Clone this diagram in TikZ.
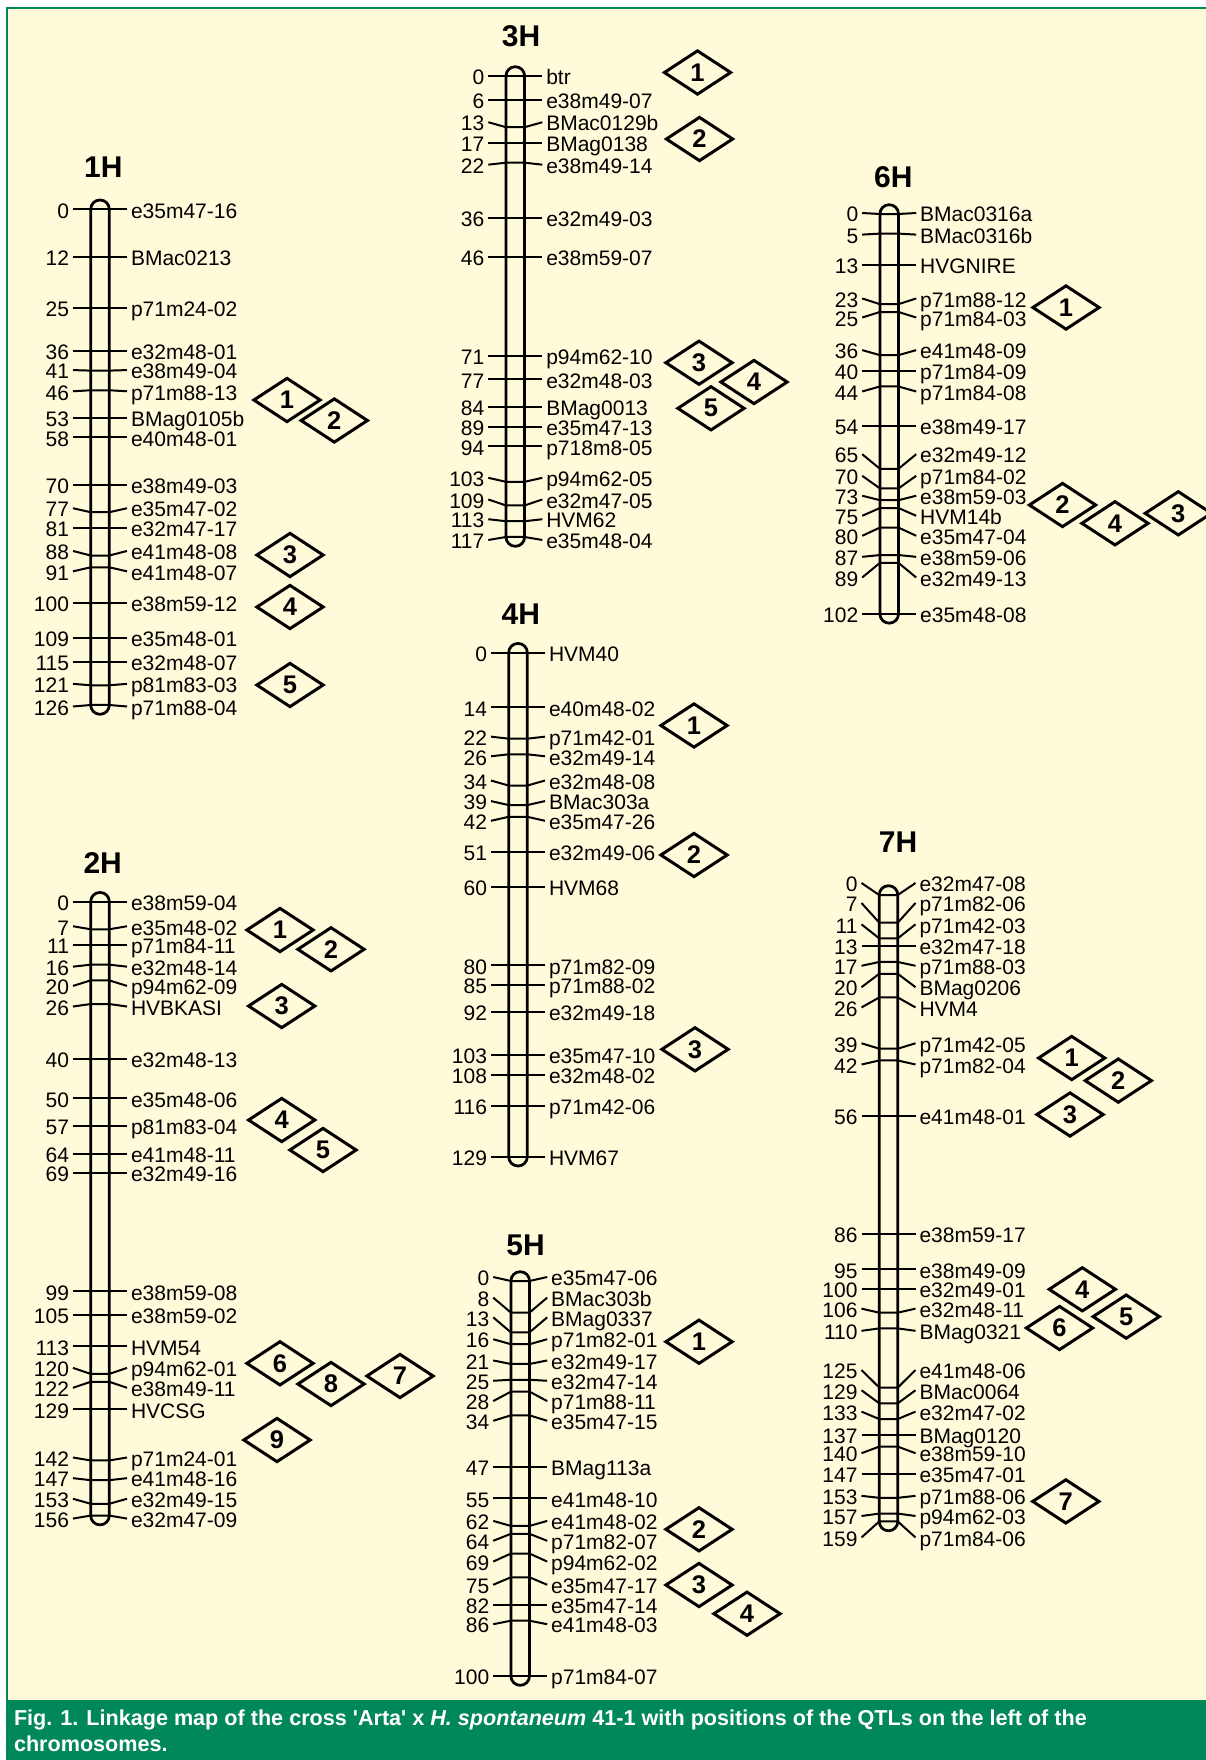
\documentclass[tikz,border=0pt]{standalone}
\usepackage{fontspec}
\setmainfont{Liberation Sans}
\usetikzlibrary{shapes.geometric}
\definecolor{panelcol}{RGB}{255,250,218}
\definecolor{framecol}{RGB}{0,135,90}
\tikzset{
  chrom/.style={draw=black,line width=1.1pt,fill=panelcol,rounded corners=3.7pt},
  tickline/.style={draw=black,line width=0.8pt,line join=round},
  cmnum/.style={anchor=east,inner sep=0pt,outer xsep=1.6pt,outer ysep=0pt,text height=7pt,text depth=0pt,font=\fontsize{8.4}{10}\selectfont},
  mkname/.style={cmnum,anchor=west},
  qtl/.style={diamond,draw=black,line width=1.2pt,fill=panelcol,minimum width=27pt,minimum height=17.8pt,inner sep=0pt,font=\bfseries\fontsize{10.2}{12}\selectfont},
  chromname/.style={inner sep=0pt,font=\bfseries\fontsize{12}{14}\selectfont}
}
% #1 id, #2 centre x, #3 y of 0 cM, #4 px per cM, #5 last cM, #6 markers cM/label shift/name
\newcommand{\linkagegroup}[6]{%
  \pgfmathsetmacro\ybot{#3+#4*#5}
  \draw[chrom] (#2-9.3,#3-9.3) rectangle (#2+9.3,\ybot+9.3);
  \foreach \cm/\dy/\nm in {#6}{
    \pgfmathsetmacro\ay{#3+#4*\cm}
    \pgfmathsetmacro\ly{\ay+\dy}
    \node[cmnum]  (n#1-\cm) at (#2-27,\ly) {\cm};
    \node[mkname] (m#1-\cm) at (#2+27,\ly) {\nm};
    \draw[tickline] (n#1-\cm.east) -- (#2-9.3,\ay) -- (#2+9.3,\ay) -- (m#1-\cm.west);
  }
}

\begin{document}
\begin{tikzpicture}[x=0.4pt,y=-0.4pt]
  \useasboundingbox (0,0) rectangle (1206,1760);
  \clip (0,0) rectangle (1206,1760);

  % panel and caption band
  \fill[white] (0,0) rectangle (1206,1760);
  \fill[panelcol] (7,8) rectangle (1206,1700);
  \draw[framecol,line width=1pt] (7,1760) -- (7,8) -- (1206,8);
  \fill[framecol] (6,1699.5) rectangle (1206,1760);

  % chromosome names
  \node[chromname] (t1) at (103.3,167) {1H};
  \node[chromname] (t2) at (102.7,863.3) {2H};
  \node[chromname] (t3) at (521,36) {3H};
  \node[chromname] (t4) at (520.8,614) {4H};
  \node[chromname] (t5) at (525.5,1245) {5H};
  \node[chromname] (t6) at (893.3,177.5) {6H};
  \node[chromname] (t7) at (898,842) {7H};

  % linkage groups
  \linkagegroup{1}{100}{209.3}{3.934}{126}{0/0/e35m47-16, 12/0/BMac0213, 25/0/p71m24-02,
    36/0/e32m48-01, 41/-0.5/e38m49-04, 46/1/p71m88-13, 53/0/BMag0105b, 58/0/e40m48-01,
    70/0/e38m49-03, 77/-4/e35m47-02, 81/0/e32m47-17, 88/-4.5/e41m48-08, 91/4/e41m48-07,
    100/0/e38m59-12, 109/0/e35m48-01, 115/0/e32m48-07, 121/-1.5/p81m83-03, 126/1.5/p71m88-04}
  \linkagegroup{2}{100}{901.7}{3.935}{156}{0/0/e38m59-04, 7/-3/e35m48-02, 11/0/p71m84-11,
    16/2/e32m48-14, 20/5.5/p94m62-09, 26/2.5/HVBKASI, 40/0/e32m48-13, 50/0/e35m48-06,
    57/0/p81m83-04, 64/0/e41m48-11, 69/0/e32m49-16, 99/0/e38m59-08, 105/0/e38m59-02,
    113/0/HVM54, 120/-6/p94m62-01, 122/6/e38m49-11, 129/0/HVCSG, 142/-3/p71m24-01,
    147/-2/e41m48-16, 153/-5/e32m49-15, 156/3/e32m47-09}
  \linkagegroup{3}{515.3}{76}{3.94}{117}{0/0/btr, 6/0/e38m49-07, 13/-5/BMac0129b,
    17/0/BMag0138, 22/2/e38m49-14, 36/0/e32m49-03, 46/0/e38m59-07, 71/0/p94m62-10,
    77/0/e32m48-03, 84/0/BMag0013, 89/0/e35m47-13, 94/0/p718m8-05, 103/-4/p94m62-05,
    109/-6/e32m47-05, 113/-2/HVM62, 117/3/e35m48-04}
  \linkagegroup{4}{518}{652.7}{3.907}{129}{0/0/HVM40, 14/0/e40m48-02, 22/-2/p71m42-01,
    26/2/e32m49-14, 34/-5/e32m48-08, 39/-4/BMac303a, 42/4/e35m47-26, 51/0/e32m49-06,
    60/0/HVM68, 80/0/p71m82-09, 85/0/p71m88-02, 92/0/e32m49-18, 103/0/e35m47-10,
    108/0/e32m48-02, 116/0/p71m42-06, 129/0/HVM67}
  \linkagegroup{5}{520.2}{1281}{3.95}{100}{0/-4/e35m47-06, 8/-15/BMac303b, 13/-15/BMag0337,
    16/-5/p71m82-01, 21/-3.5/e32m49-17, 25/1/e32m47-14, 28/9.5/p71m88-11, 34/5.5/e35m47-15,
    47/0/BMag113a, 55/0/e41m48-10, 62/-5/e41m48-02, 64/7/p71m82-07, 69/8/p94m62-02,
    75/7.5/e35m47-17, 82/0/e35m47-14, 86/3.5/e41m48-03, 100/0/p71m84-07}
  \linkagegroup{6}{889.2}{214}{3.92}{102}{0/-1/BMac0316a, 5/1/BMac0316b, 13/0/HVGNIRE,
    23/-5.7/p71m88-12, 25/5.5/p71m84-03, 36/-5/e41m48-09, 40/0/p71m84-09, 44/5/p71m84-08,
    54/0/e38m49-17, 65/-14.6/e32m49-12, 70/-12.6/p71m84-02, 73/-4.4/e38m59-03,
    75/7.8/HVM14b, 80/8.2/e35m47-04, 87/1.8/e38m59-06, 89/14.6/e32m49-13, 102/0/e35m48-08}
  \linkagegroup{7}{888.5}{895}{3.94}{159}{0/-12/e32m47-08, 7/-19.6/p71m82-06,
    11/-14/p71m42-03, 13/0/e32m47-18, 17/3.8/p71m88-03, 20/13.4/BMag0206, 26/10/HVM4,
    39/-5.4/p71m42-05, 42/4/p71m82-04, 56/0/e41m48-01, 86/0/e38m59-17, 95/0/e38m49-09,
    100/0/e32m49-01, 106/-4/e32m48-11, 110/2.4/BMag0321, 125/-17.5/e41m48-06,
    129/-13/BMac0064, 133/-7.4/e32m47-02, 137/0/BMag0120, 140/6.6/e38m59-10,
    147/0/e35m47-01, 153/-2/p71m88-06, 157/2.4/p94m62-03, 159/16/p71m84-06}

  % QTL diamonds
  \foreach \id/\x/\y/\q in {1a/287/400/1, 1b/334.3/420.5/2, 1c/290/555/3, 1d/290/607/4, 1e/290/685/5,
      2a/280/930/1, 2b/331/949.3/2, 2c/281.7/1006/3, 2d/281.7/1120/4, 2e/323/1150/5,
      2f/280/1363.3/6, 2g/400/1376/7, 2h/331/1384/8, 2i/277/1440/9,
      3a/697.5/72.5/1, 3b/699.5/139/2, 3c/699/362.7/3, 3d/754/382/4, 3e/711/408.3/5,
      4a/694/725.5/1, 4b/694/855/2, 4c/695/1049.3/3,
      5a/699/1341.7/1, 5b/699/1529.3/2, 5c/699/1585/3, 5d/747/1613.7/4,
      6a/1066/307.5/1, 6b/1062.5/505/2, 6c/1178.3/513.3/3, 6d/1115/523.3/4,
      7a/1071.7/1058/1, 7b/1118.3/1080.6/2, 7c/1070/1114.5/3, 7d/1082.3/1289.3/4,
      7e/1126.2/1316.6/5, 7f/1059.5/1328/6, 7g/1065.8/1501.4/7}{
    \node[qtl] (q\id) at (\x,\y) {\q};
  }

  % caption
  \node[anchor=base west,inner sep=0pt,text=white,font=\bfseries\fontsize{8.64}{10}\selectfont] (cap1) at (13.5,1725.7)
    {Fig. 1. Linkage map of the cross \textquotesingle Arta\textquotesingle{} x \textit{H. spontaneum} 41-1 with positions of the QTLs on the left of the};
  \node[anchor=base west,inner sep=0pt,text=white,font=\bfseries\fontsize{8.64}{10}\selectfont] (cap2) at (13.5,1751.7)
    {chromosomes.};
\end{tikzpicture}
\end{document}
